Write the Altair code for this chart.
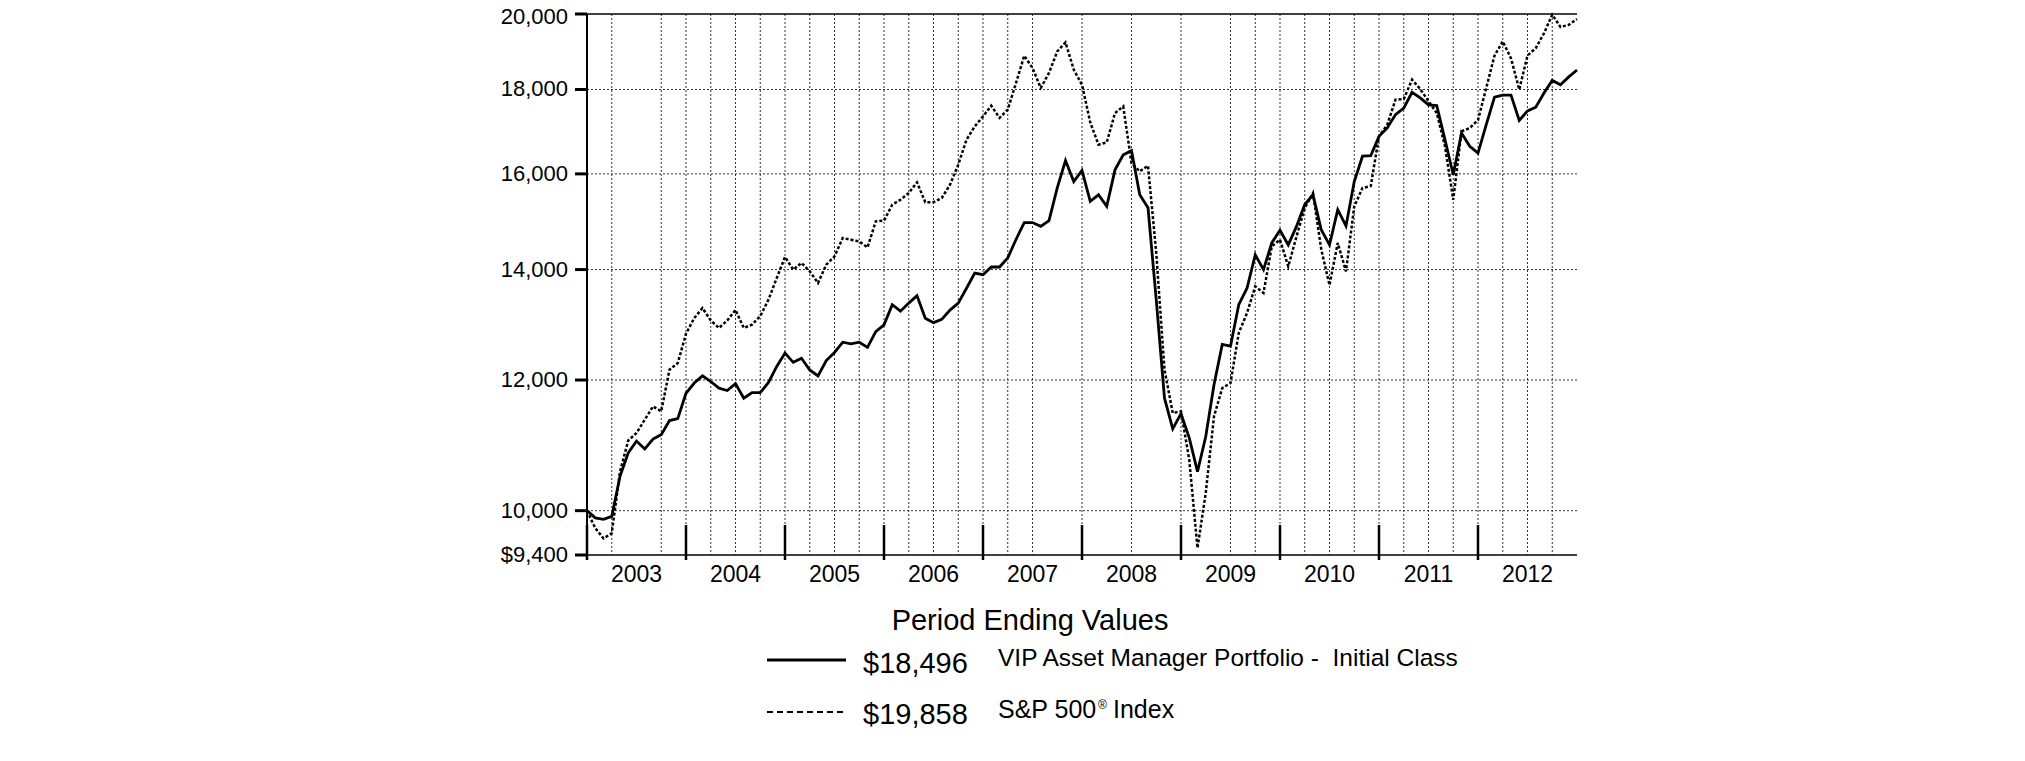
import altair as alt
import pandas as pd

# ---------------- data ----------------
month_labels = pd.date_range("2002-12-31", periods=121, freq="ME").strftime("%b %Y").tolist()

fund_values = [
    10000, 9900, 9880, 9920, 10490, 10840, 11020, 10900, 11050, 11120, 11340, 11370,
    11780, 11950, 12070, 11975, 11865, 11825, 11940, 11700, 11790, 11790, 11960, 12230,
    12460, 12300, 12370, 12170, 12070, 12330, 12470, 12650, 12620, 12650, 12560, 12840,
    12960, 13330, 13210, 13360, 13500, 13080, 13000, 13060, 13230, 13360, 13640, 13930,
    13900, 14050, 14050, 14230, 14600, 14950, 14950, 14870, 14990, 15690, 16300, 15830,
    16080, 15400, 15540, 15290, 16090, 16430, 16530, 15540, 15260, 13420, 11700, 11210,
    11450, 11070, 10560, 11090, 11920, 12610, 12580, 13330, 13640, 14290, 14000, 14530,
    14790, 14490, 14870, 15330, 15540, 14800, 14490, 15220, 14880, 15830, 16400, 16410,
    16860, 17060, 17380, 17540, 17930, 17790, 17620, 17600, 16780, 15980, 16940, 16630,
    16470, 17140, 17810, 17860, 17860, 17240, 17470, 17560, 17910, 18230, 18120, 18320,
    18496,
]

sp500_values = [
    10000, 9760, 9620, 9690, 10560, 11030, 11145, 11354, 11567, 11487, 12174, 12288,
    12800, 13084, 13268, 13040, 12904, 13040, 13234, 12904, 12964, 13120, 13424, 13836,
    14248, 13998, 14130, 13965, 13740, 14095, 14260, 14630, 14596, 14560, 14440, 14974,
    14990, 15326, 15434, 15580, 15812, 15380, 15380, 15470, 15760, 16206, 16782, 17096,
    17336, 17598, 17300, 17500, 18164, 18868, 18548, 18038, 18420, 18982, 19224, 18504,
    18120, 17190, 16666, 16720, 17418, 17580, 16244, 16056, 16184, 14330, 12174, 11460,
    11487, 10738, 9492, 10250, 11406, 11866, 11950, 12814, 13176, 13674, 13550, 14460,
    14596, 14062, 14660, 15256, 15580, 14400, 13700, 14530, 13965, 15290, 15688, 15730,
    16860, 17136, 17746, 17760, 18248, 18010, 17710, 17418, 16626, 15434, 16978, 17058,
    17250, 18040, 18870, 19250, 18800, 18000, 18870, 19070, 19470, 19980, 19640, 19700,
    19858,
]

year_labels = ["2003", "2004", "2005", "2006", "2007", "2008", "2009", "2010", "2011", "2012"]
year_mid_months = [6, 18, 30, 42, 54, 66, 78, 90, 102, 114]
year_start_months = [0, 12, 24, 36, 48, 60, 72, 84, 96, 108]
x_grid_months = [3, 9, 12, 15, 18, 21, 24, 27, 30, 33, 36, 39, 42, 45, 48, 51, 54,
                 60, 66, 72, 78, 81, 84, 87, 90, 93, 96, 99, 102, 105, 108, 111, 114, 117]
y_tick_values = [9400, 10000, 12000, 14000, 16000, 18000, 20000]
y_tick_labels = ["$9,400", "10,000", "12,000", "14,000", "16,000", "18,000", "20,000"]
y_grid_values = [10000, 12000, 14000, 16000, 18000]

legend_title = "Period Ending Values"
fund_name = "VIP Asset Manager Portfolio -\u00a0 Initial Class"
fund_end = "$18,496"
index_name = "S&P 500"
index_mark = "\u00ae"
index_suffix = "Index"
index_end = "$19,858"

# ---------------- chart ----------------
FONT = "Liberation Sans"
W, H = 990, 541

df = pd.DataFrame({"m": list(range(121)), "month": month_labels,
                   "fund": fund_values, "sp": sp500_values})

xs = alt.Scale(domain=[0, 120], nice=False, zero=False)
ys = alt.Scale(type="log", domain=[9400, 20000], nice=False, zero=False)


def X(field):
    return alt.X(field, scale=xs, axis=None)


def Y(field):
    return alt.Y(field, scale=ys, axis=None)


vgrid = alt.Chart(pd.DataFrame({"m": x_grid_months})).mark_rule(
    color="#333333", strokeWidth=1, strokeDash=[2, 2]
).encode(x=X("m:Q"))

hgrid = alt.Chart(pd.DataFrame({"v": y_grid_values})).mark_rule(
    color="#333333", strokeWidth=1, strokeDash=[2, 2]
).encode(y=Y("v:Q"))

top_line = alt.Chart(pd.DataFrame({"v": [20000]})).mark_rule(
    color="black", strokeWidth=1.5
).encode(y=Y("v:Q"))

year_ticks = alt.Chart(pd.DataFrame({"m": year_start_months})).mark_rule(
    color="black", strokeWidth=2.5
).encode(x=X("m:Q"), y=alt.value(H - 30), y2=alt.value(H + 5))

# axes drawn from the scales
one = pd.DataFrame({"a": [0]})
left_domain = alt.Chart(one).mark_rule(color="black", strokeWidth=2).encode(
    x=alt.value(0), y=alt.value(0), y2=alt.value(H + 1))
bottom_domain = alt.Chart(one).mark_rule(color="black", strokeWidth=1.5).encode(
    x=alt.value(0), x2=alt.value(W), y=alt.value(H))

ydf = pd.DataFrame({"v": y_tick_values, "lab": y_tick_labels})
y_ticks = alt.Chart(ydf).mark_rule(color="black", strokeWidth=3).encode(
    y=Y("v:Q"), x=alt.value(-12), x2=alt.value(0))
y_labels = alt.Chart(ydf).transform_filter("datum.v < 20000").mark_text(
    align="right", baseline="middle", fontSize=22, font=FONT, color="black"
).encode(y=Y("v:Q"), x=alt.value(-19), text="lab:N")
y_label_top = alt.Chart(ydf).transform_filter("datum.v >= 20000").mark_text(
    align="right", baseline="middle", fontSize=22, font=FONT, color="black", dy=3
).encode(y=Y("v:Q"), x=alt.value(-19), text="lab:N")

xdf = pd.DataFrame({"m": year_mid_months, "lab": year_labels})
x_labels = alt.Chart(xdf).mark_text(
    align="center", baseline="alphabetic", fontSize=23, font=FONT, color="black"
).encode(x=X("m:Q"), y=alt.value(H + 27), text="lab:N")

sp_line = alt.Chart(df).mark_line(color="black", strokeWidth=2.5, strokeDash=[3, 2]).encode(
    x=X("m:Q"), y=Y("sp:Q")
)
fund_line = alt.Chart(df).mark_line(color="black", strokeWidth=2.8).encode(
    x=X("m:Q"), y=Y("fund:Q")
)


def label(text, x, y, size, align="left"):
    return alt.Chart(pd.DataFrame({"t": [text]})).mark_text(
        align=align, baseline="alphabetic", fontSize=size, font=FONT, color="black"
    ).encode(text="t:N", x=alt.value(x), y=alt.value(y))


def legend_rule(x1, x2, y, width, dash=None):
    kw = dict(color="black", strokeWidth=width)
    if dash:
        kw["strokeDash"] = dash
    return alt.Chart(one).mark_rule(**kw).encode(
        x=alt.value(x1), x2=alt.value(x2), y=alt.value(y))


legend = [
    label(legend_title, 443, 616, 29, align="center"),
    legend_rule(180, 259, 646, 3),
    label(fund_end, 276, 659, 29),
    label(fund_name, 411, 652, 24.5),
    legend_rule(180, 259, 698, 2, dash=[6, 4]),
    label(index_end, 276, 710, 29),
    label(index_name, 411, 704, 25),
    label(index_mark, 511, 695, 12),
    label(index_suffix, 526, 704, 25),
]

chart = alt.layer(
    vgrid, hgrid, top_line, year_ticks, sp_line, fund_line,
    left_domain, bottom_domain, y_ticks, y_labels, y_label_top, x_labels, *legend
).properties(
    width=W, height=H,
    autosize=alt.AutoSizeParams(type="none"),
    padding={"left": 579, "top": 6, "right": 10, "bottom": 200},
    background="white",
).configure_view(stroke=None)

chart.save("out.html", embed_options={"renderer": "svg", "actions": False})
